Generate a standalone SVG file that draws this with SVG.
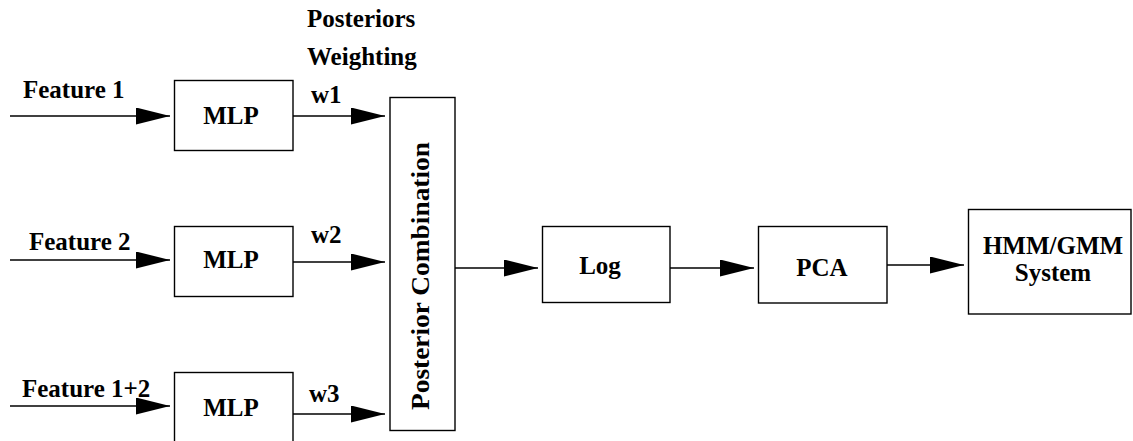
<svg xmlns="http://www.w3.org/2000/svg" width="1133" height="441" viewBox="0 0 1133 441">
<defs>
<marker id="ah" markerWidth="34" markerHeight="17" refX="34" refY="8.5" orient="auto" markerUnits="userSpaceOnUse">
<path d="M0,0 L34,8.5 L0,17 Z" fill="#000"/>
</marker>
</defs>
<style>
.box{fill:#fff;stroke:#000;stroke-width:1.4}
.t{font-family:"Liberation Serif","Times New Roman",serif;font-weight:bold;font-size:25px;fill:#000}
.c{text-anchor:middle}
.ln{stroke:#000;stroke-width:1.4;fill:none}
</style>
<rect width="1133" height="441" fill="#fff"/>
<g id="labels">
<text class="t" x="307" y="27">Posteriors</text>
<text class="t" x="307" y="65">Weighting</text>
<text class="t" x="23" y="98">Feature 1</text>
<text class="t" x="29" y="250">Feature 2</text>
<text class="t" x="22" y="397">Feature 1+2</text>
<text class="t" x="311" y="103">w1</text>
<text class="t" x="311" y="243">w2</text>
<text class="t" x="309" y="402">w3</text>
</g>
<g id="mlp1"><rect class="box" x="174.5" y="80.5" width="118.5" height="70"/><text class="t c" x="231" y="124">MLP</text></g>
<g id="mlp2"><rect class="box" x="174.5" y="226.5" width="118.5" height="70"/><text class="t c" x="231" y="268">MLP</text></g>
<g id="mlp3"><rect class="box" x="174.5" y="372.5" width="118.5" height="80"/><text class="t c" x="231" y="416">MLP</text></g>
<g id="comb"><rect class="box" x="390" y="97.5" width="65" height="333"/><text class="t c" transform="translate(429,276) rotate(-90)" textLength="268" lengthAdjust="spacingAndGlyphs">Posterior Combination</text></g>
<g id="log"><rect class="box" x="542.5" y="226.5" width="127.5" height="76"/><text class="t c" x="600" y="274">Log</text></g>
<g id="pca"><rect class="box" x="758.5" y="226.5" width="128.5" height="76.5"/><text class="t c" x="822" y="276">PCA</text></g>
<g id="hmm"><rect class="box" x="968.5" y="209.5" width="162.5" height="104.5"/><text class="t c" x="1053" y="254">HMM/GMM</text><text class="t c" x="1053" y="281">System</text></g>
<g id="connectors">
<line class="ln" x1="10" y1="116" x2="170" y2="116" marker-end="url(#ah)"/>
<line class="ln" x1="10" y1="260" x2="170" y2="260" marker-end="url(#ah)"/>
<line class="ln" x1="10" y1="406" x2="170" y2="406" marker-end="url(#ah)"/>
<line class="ln" x1="293" y1="116" x2="385" y2="116" marker-end="url(#ah)"/>
<line class="ln" x1="293" y1="262" x2="385" y2="262" marker-end="url(#ah)"/>
<line class="ln" x1="293" y1="414" x2="385" y2="414" marker-end="url(#ah)"/>
<line class="ln" x1="455" y1="268" x2="538" y2="268" marker-end="url(#ah)"/>
<line class="ln" x1="670" y1="268" x2="754" y2="268" marker-end="url(#ah)"/>
<line class="ln" x1="887" y1="265" x2="964" y2="265" marker-end="url(#ah)"/>
</g>
</svg>
